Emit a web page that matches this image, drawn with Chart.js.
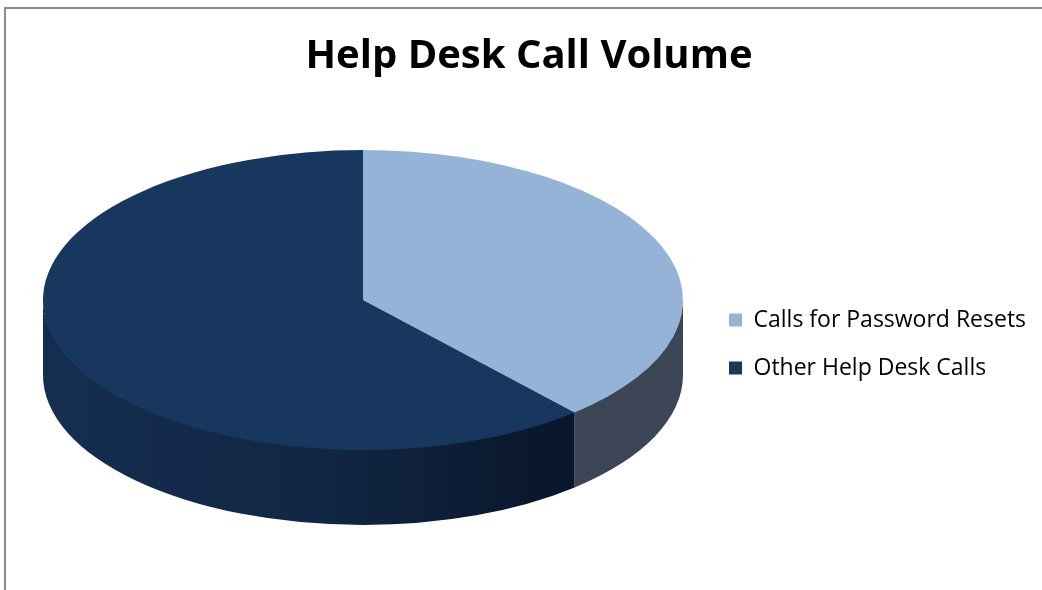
<!DOCTYPE html>
<html><head><meta charset="utf-8">
<script src="https://cdn.jsdelivr.net/npm/chart.js@4.4.0/dist/chart.umd.min.js"></script>
<style>
html,body{margin:0;padding:0;background:#fff;}
#wrap{position:relative;width:1042px;height:590px;overflow:hidden;background:#fff;}
#frame{position:absolute;left:4px;top:7px;width:1100px;height:700px;border-left:2px solid #8c8c8c;border-top:2px solid #8c8c8c;}
canvas{position:absolute;left:0;top:0;}
</style></head><body>
<div id="wrap"><div id="frame"></div><canvas id="c" width="1042" height="590"></canvas></div>
<script>
// ---- data ----
const categories = ['Calls for Password Resets', 'Other Help Desk Calls'];
const callShares = [38.5, 61.5];
const chartTitle = 'Help Desk Call Volume';

// ---- styles ----
const topColors = ['#95B3D7', '#17375E'];
const RX = 320, RY = 150, DEPTH = 75, TOP_SHIFT = 44;
const LEGEND_FONT = { family: 'Open Sans', size: 23 };
const LEGEND_LEFT = 713;

// measure legend text to place the legend box
const mctx = document.createElement('canvas').getContext('2d');
mctx.font = LEGEND_FONT.size + 'px "' + LEGEND_FONT.family + '"';
const textW = Math.max(...categories.map(t => mctx.measureText(t).width));
const padRight = 1042 - LEGEND_LEFT - (26 + 13 + LEGEND_FONT.size / 2 + textW);

const pie3d = {
  id: 'pie3d',
  beforeDatasetsDraw(chart) {
    const ctx = chart.ctx;
    const arcs = chart.getDatasetMeta(0).data;
    if (!arcs.length) return false;
    const R = arcs[0].outerRadius;
    const cx = arcs[0].x;
    const cy = arcs[0].y - TOP_SHIFT;
    arcs.forEach((arc, i) => {
      [[0, Math.PI], [2 * Math.PI, 3 * Math.PI]].forEach(([lo, hi]) => {
        const a = Math.max(arc.startAngle, lo), b = Math.min(arc.endAngle, hi);
        if (b <= a) return;
        ctx.save();
        ctx.beginPath();
        ctx.ellipse(cx, cy - 1.5, RX, RY, 0, a, b, false);
        ctx.lineTo(cx + RX * Math.cos(b), cy + RY * Math.sin(b) + DEPTH);
        ctx.ellipse(cx, cy + DEPTH, RX, RY, 0, b, a, true);
        ctx.closePath();
        const g = ctx.createLinearGradient(cx - RX, 0, cx + RX, 0);
        if (i === 0) {
          g.addColorStop(0, '#3D4858');
          g.addColorStop(1, '#3B4555');
        } else {
          g.addColorStop(0, '#152E50');
          g.addColorStop(0.45, '#112644');
          g.addColorStop(0.72, '#0B1A30');
          g.addColorStop(0.85, '#09152A');
          g.addColorStop(1, '#09152A');
        }
        ctx.fillStyle = g;
        ctx.fill();
        ctx.restore();
      });
    });
    ctx.save();
    ctx.translate(cx, cy);
    ctx.scale(RX / R, RY / R);
    ctx.translate(-arcs[0].x, -arcs[0].y);
    arcs.forEach(a => a.draw(ctx));
    ctx.restore();
    return false;
  }
};

new Chart(document.getElementById('c'), {
  type: 'pie',
  data: {
    labels: categories,
    datasets: [{ data: callShares, backgroundColor: topColors, borderWidth: 0 }]
  },
  options: {
    responsive: false,
    animation: false,
    events: [],
    layout: { padding: { left: 22, right: padRight, top: 0, bottom: 0 } },
    plugins: {
      title: {
        display: true, text: chartTitle, color: '#000',
        font: { family: 'Open Sans', size: 40, weight: 'bold' },
        padding: { top: 33, bottom: 17 }
      },
      legend: {
        position: 'right',
        fullSize: false,
        labels: {
          color: '#000', boxWidth: 13, boxHeight: 13, padding: 25,
          font: LEGEND_FONT
        }
      },
      tooltip: { enabled: false }
    }
  },
  plugins: [pie3d]
});
</script>
</body></html>
